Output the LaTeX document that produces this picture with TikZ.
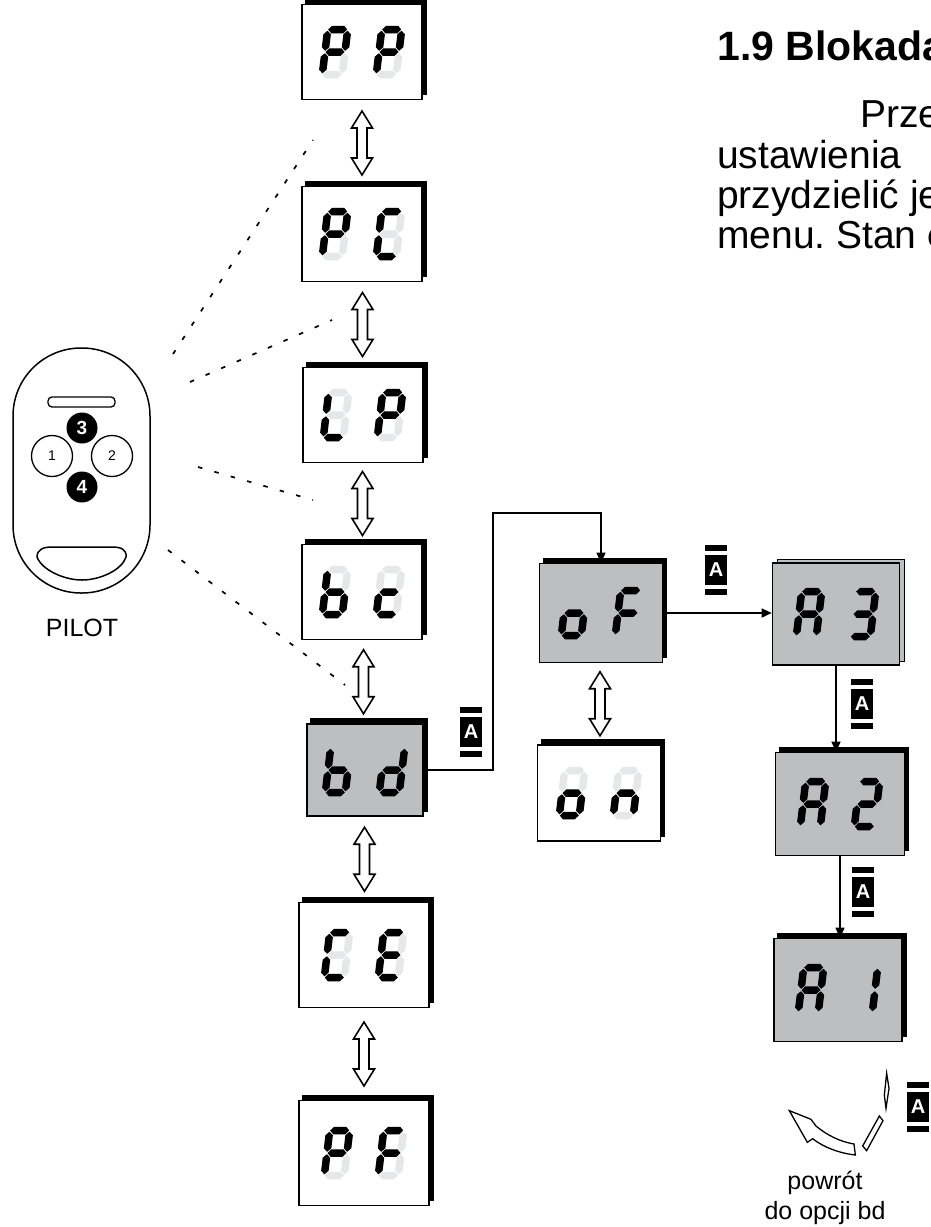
\documentclass[tikz,border=0pt]{standalone}
\usepackage{fontspec}
\setmainfont{Liberation Sans}
\usetikzlibrary{calc,shadows,arrows.meta}
\frenchspacing

\definecolor{lcdgray}{RGB}{188,190,192}
\definecolor{segoff}{RGB}{230,231,232}

% one segment of a display digit
\newcommand\lcdhseg[2]{\fill[\lcdcol,shift={(#1,#2)}] (-9.5,0) -- (-6,-3.75) -- (6,-3.75) -- (9.5,0) -- (6,3.75) -- (-6,3.75) -- cycle;}
\newcommand\lcdvseg[2]{\fill[\lcdcol,shift={(#1,#2)}] (0,-10) -- (3.75,-6.5) -- (3.75,6.5) -- (0,10) -- (-3.75,6.5) -- (-3.75,-6.5) -- cycle;}
\newcommand\lcdsega{\lcdhseg{0}{-22.5}}
\newcommand\lcdsegb{\lcdvseg{10}{-11.25}}
\newcommand\lcdsegc{\lcdvseg{10}{11.25}}
\newcommand\lcdsegd{\lcdhseg{0}{22.5}}
\newcommand\lcdsege{\lcdvseg{-10}{11.25}}
\newcommand\lcdsegf{\lcdvseg{-10}{-11.25}}
\newcommand\lcdsegg{\lcdhseg{0}{0}}

% digit: position, lit segments, colour of the unlit ones
\newcommand\lcddigit[3]{%
  \begin{scope}[shift={#1},xslant=0.12]
    \def\lcdcol{#3}
    \foreach \s in {a,b,c,d,e,f,g}{\csname lcdseg\s\endcsname}
    \def\lcdcol{black}
    \foreach \s in {#2}{\csname lcdseg\s\endcsname}
  \end{scope}}
\newcommand\lcdpair[4]{%
  \lcddigit{($(#1.center)+(-27,0)$)}{#2}{#4}
  \lcddigit{($(#1.center)+(27,0)$)}{#3}{#4}}

% hollow two-way arrow between two displays
\newcommand\updown[2]{%
  \draw[updown] ($(#1.south)!.5!(#2.north)$) ++(0,-32) -- ++(10.5,17) -- ++(-5.5,0) -- ++(0,30)
    -- ++(5.5,0) -- ++(-10.5,17) -- ++(-10.5,-17) -- ++(5.5,0) -- ++(0,-30) -- ++(-5.5,0) -- cycle;}

% remote key A
\newcommand\keyA[3]{%
  \node[keycap] (#1) at (#2,#3) {A};
  \fill ([yshift=4pt]#1.north west) rectangle ([yshift=10pt]#1.north east);
  \fill ([yshift=-4pt]#1.south west) rectangle ([yshift=-10pt]#1.south east);}

\begin{document}
\begin{tikzpicture}[x=1pt,y=-1pt,
    box/.style={draw, line width=1.6pt, inner sep=0pt, minimum width=120pt, minimum height=95pt},
    shadowbox/.style={box, copy shadow={shadow xshift=4pt, shadow yshift=5pt, fill=black, draw=black}},
    display/.style={shadowbox, fill=white},
    display sel/.style={shadowbox, fill=lcdgray},
    display stack/.style={box, fill=lcdgray,
      copy shadow={shadow xshift=5pt, shadow yshift=4pt, fill=lcdgray, draw=black, line width=1pt}},
    updown/.style={draw, fill=white, line width=1.6pt, line join=miter},
    link/.style={line width=1.5pt, -{Triangle[length=10pt,width=9pt]}},
    dotline/.style={line width=1.7pt, dash pattern=on 4.5pt off 12.5pt},
    keycap/.style={fill=black, text=white, inner sep=0pt, minimum width=22pt, minimum height=30pt,
      font=\fontsize{20}{20}\selectfont\bfseries},
    heading/.style={anchor=base west, inner sep=0pt, font=\fontsize{41}{49}\selectfont\bfseries},
    bodytext/.style={anchor=base west, inner sep=0pt, font=\fontsize{39}{47}\selectfont},
    caption/.style={inner sep=0pt, font=\fontsize{25}{30}\selectfont}]
  \path[use as bounding box, fill=white] (0,0) rectangle (931,1227);

  % text at the top right
  \node[heading] (title) at (717,60) {1.9 Blokada};
  \node[bodytext] (t1) at (860,127) {Prze};
  \node[bodytext] (t2) at (717,168) {ustawienia};
  \node[bodytext] (t3) at (717,208) {przydzielić je};
  \node[bodytext] (t4) at (717,248) {menu. Stan \textbf{o}};

  % menu column
  \node[display] (PP) at (362,52) {};
  \node[display] (PC) at (362,234) {};
  \node[display] (LP) at (363,415) {};
  \node[display] (bc) at (362,592) {};
  \node[display sel, minimum width=116pt, minimum height=92pt] (bd) at (365,770) {};
  \node[display, minimum width=130pt, minimum height=105pt] (CE) at (364,955) {};
  \node[display, minimum width=130pt, minimum height=105pt] (PF) at (364,1153) {};
  % bd options
  \node[display sel, minimum width=123pt, minimum height=99pt] (oF) at (601,613) {};
  \node[display, minimum width=123pt, minimum height=96pt] (on) at (599,793) {};
  \node[display stack, minimum width=127pt, minimum height=102pt] (A3) at (836,614) {};
  \node[display sel, minimum width=129pt, minimum height=103pt] (A2) at (840,804) {};
  \node[display sel, minimum width=128pt, minimum height=103pt] (A1) at (838,990) {};

  \lcdpair{PP}{a,b,e,f,g}{a,b,e,f,g}{segoff}
  \lcdpair{PC}{a,b,e,f,g}{a,d,e,f}{segoff}
  \lcdpair{LP}{d,e,f}{a,b,e,f,g}{segoff}
  \lcdpair{bc}{c,d,e,f,g}{d,e,g}{segoff}
  \lcdpair{bd}{c,d,e,f,g}{b,c,d,e,g}{lcdgray}
  \lcdpair{CE}{a,d,e,f}{a,d,e,f,g}{segoff}
  \lcdpair{PF}{a,b,e,f,g}{a,e,f,g}{segoff}
  \lcdpair{oF}{c,d,e,g}{a,e,f,g}{lcdgray}
  \lcdpair{on}{c,d,e,g}{c,e,g}{segoff}
  \lcdpair{A3}{a,b,c,e,f,g}{a,b,c,d,g}{lcdgray}
  \lcdpair{A2}{a,b,c,e,f,g}{a,b,d,e,g}{lcdgray}
  \lcdpair{A1}{a,b,c,e,f,g}{b,c}{lcdgray}

  \foreach \a/\b in {PP/PC, PC/LP, LP/bc, bc/bd, bd/CE, CE/PF, oF/on}
    \updown{\a}{\b};

  % key A steps
  \coordinate (bend) at (493,513);
  \draw[link] (bd.east) -| (bend) -| (oF.north);
  \draw[link] (oF.east) -- (oF.east -| A3.west);
  \draw[link] (A3.south) -- (A3.south |- A2.north);
  \draw[link] (A2.south) -- (A2.south |- A1.north);
  \keyA{k1}{471}{732}
  \keyA{k2}{716}{570}
  \keyA{k3}{862}{704}
  \keyA{k4}{863}{892}
  \keyA{k5}{918}{1107}

  % remote
  \draw[line width=1.5pt, rounded corners=68pt] (13,348) rectangle (150,593);
  \draw[line width=1.3pt, rounded corners=4pt] (48,397) rectangle (115,407);
  \node[circle, fill=black, text=white, minimum size=31pt, inner sep=0pt,
    font=\fontsize{19}{19}\selectfont\bfseries] (b3) at (82,428) {3};
  \node[circle, fill=black, text=white, minimum size=31pt, inner sep=0pt,
    font=\fontsize{19}{19}\selectfont\bfseries] (b4) at (82,487) {4};
  \node[circle, draw, line width=1.3pt, minimum size=41pt, inner sep=0pt,
    font=\fontsize{14}{14}\selectfont] (b1) at (52,456) {1};
  \node[circle, draw, line width=1.3pt, minimum size=41pt, inner sep=0pt,
    font=\fontsize{14}{14}\selectfont] (b2) at (112,456) {2};
  \draw[line width=1.5pt] (37,557) .. controls (37,549) and (44,547) .. (52,547) -- (112,547)
    .. controls (120,547) and (127,549) .. (126,557)
    .. controls (122,570) and (100,580) .. (82,580)
    .. controls (64,580) and (42,570) .. (37,557) -- cycle;
  \node[caption] (pilot) at (82,628) {PILOT};

  \coordinate (d1a) at (173,354); \coordinate (d1b) at (313,140);
  \coordinate (d2a) at (190,382); \coordinate (d2b) at (332,320);
  \coordinate (d3a) at (198,467); \coordinate (d3b) at (313,500);
  \coordinate (d4a) at (168,550); \coordinate (d4b) at (345,685);
  \foreach \i in {1,...,4}
    \draw[dotline] (d\i a) -- (d\i b);

  % back to bd
  \begin{scope}[shift={(700,1020)}, scale=1/3, line width=1.3pt, fill=white]
    \draw (560,160) -- (567,205) -- (558,265) -- (553,225) -- cycle;
    \draw (538,288) -- (549,302) -- (500,392) -- (488,378) -- cycle;
    \draw (462,372) -- (466,405) .. controls (420,400) and (370,382) .. (338,356)
      -- (322,367) -- (268,272) -- (333,298) -- (348,318)
      .. controls (380,345) and (420,365) .. (462,372) -- cycle;
  \end{scope}
  \node[caption] (back1) at (825,1183) {powrót};
  \node[caption] (back2) at (825,1213) {do opcji bd};
\end{tikzpicture}
\end{document}
